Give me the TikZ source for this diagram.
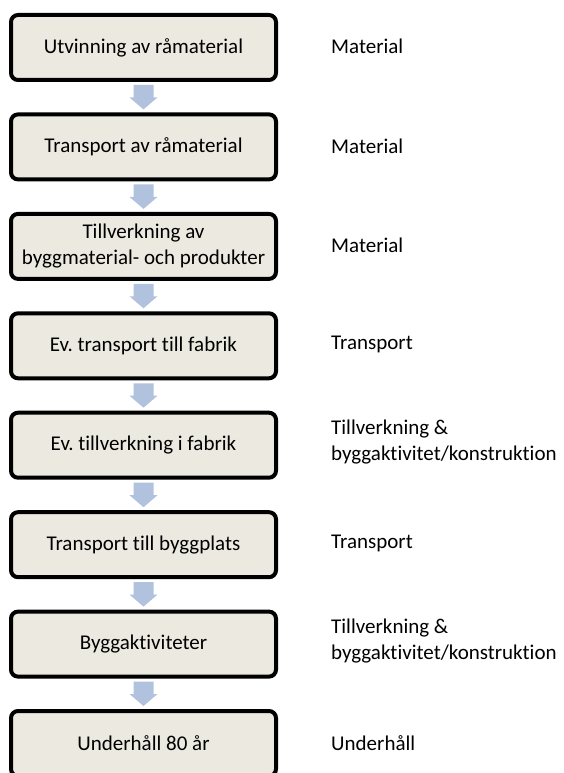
\documentclass[tikz,border=0pt]{standalone}
\usepackage{fontspec}
\setmainfont[Ligatures={NoCommon}]{Carlito}
\usetikzlibrary{calc}
\definecolor{boxfill}{RGB}{236,234,224}
\definecolor{arrowblue}{RGB}{176,194,222}
\tikzset{
  stage/.style={draw=black, line width=4pt, rounded corners=7pt, fill=boxfill,
    minimum width=265pt, minimum height=65pt, align=center, inner sep=2pt,
    font=\fontsize{21}{26}\selectfont\frenchspacing},
  lab/.style={anchor=west, align=left, inner sep=0pt, font=\fontsize{21}{26}\selectfont\frenchspacing},
}
\newcommand{\blockarrow}[2]{%
  \fill[arrowblue] ($(#1.south)+(-10pt,-3pt)$) -- ($(#1.south)+(10pt,-3pt)$)
    -- ($(#2.north)+(10pt,15pt)$) -- ($(#2.north)+(14pt,15pt)$)
    -- ($(#2.north)+(0pt,3pt)$) -- ($(#2.north)+(-14pt,15pt)$)
    -- ($(#2.north)+(-10pt,15pt)$) -- cycle;}
\begin{document}
\begin{tikzpicture}[x=1pt,y=-1pt]
\useasboundingbox (0,0) rectangle (563,773);
\clip (0,0) rectangle (563,773);
\node[stage] (s1) at (143.5,47.5) {Utvinning av råmaterial};
\node[stage] (s2) at (143.5,146.9) {Transport av råmaterial};
\node[stage] (s3) at (143.5,246.4) {Tillverkning av\\byggmaterial- och produkter};
\node[stage] (s4) at (143.5,345.8) {Ev.\ transport till fabrik};
\node[stage] (s5) at (143.5,445.2) {Ev.\ tillverkning i fabrik};
\node[stage] (s6) at (143.5,544.7) {Transport till byggplats};
\node[stage] (s7) at (143.5,644.1) {Byggaktiviteter};
\node[stage] (s8) at (143.5,743.5) {Underhåll 80 år};
\node[lab] (l1) at (331,46.5) {Material};
\node[lab] (l2) at (331,145.9) {Material};
\node[lab] (l3) at (331,245.4) {Material};
\node[lab] (l4) at (331,344.8) {Transport};
\node[lab] (l5) at (331,442.2) {Tillverkning \&\\byggaktivitet/konstruktion};
\node[lab] (l6) at (331,543.7) {Transport};
\node[lab] (l7) at (331,641.1) {Tillverkning \&\\byggaktivitet/konstruktion};
\node[lab] (l8) at (331,743.5) {Underhåll};
\blockarrow{s1}{s2}
\blockarrow{s2}{s3}
\blockarrow{s3}{s4}
\blockarrow{s4}{s5}
\blockarrow{s5}{s6}
\blockarrow{s6}{s7}
\blockarrow{s7}{s8}
\end{tikzpicture}
\end{document}
